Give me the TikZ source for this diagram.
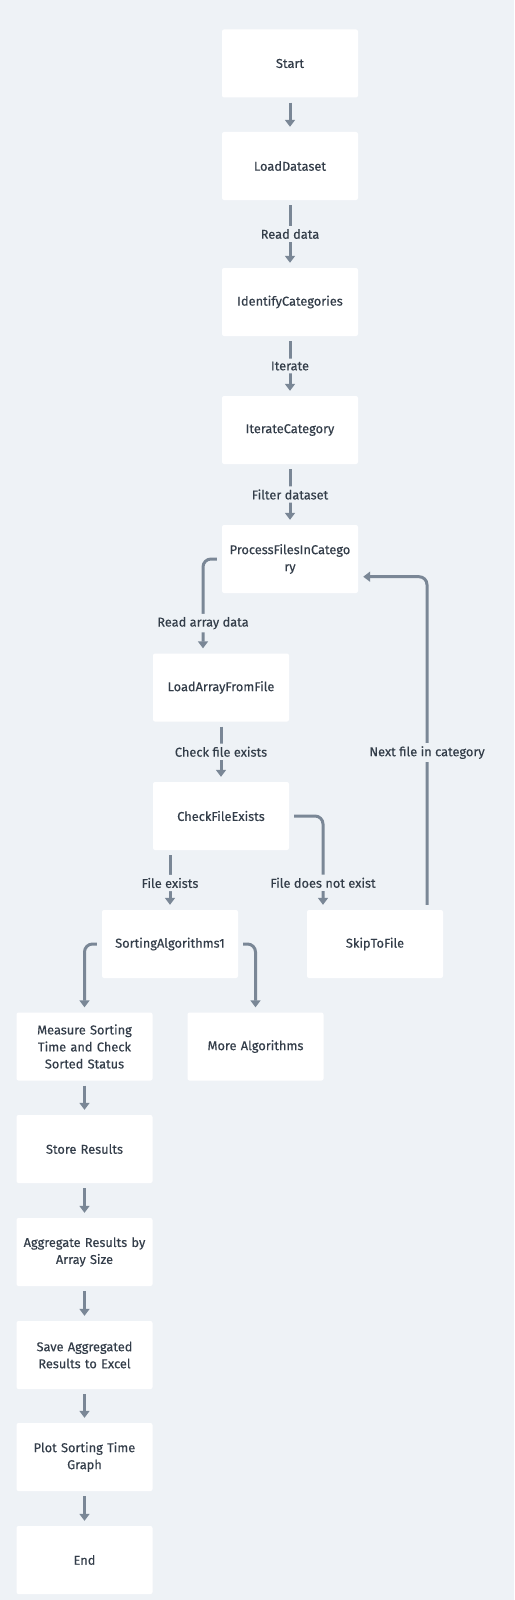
\documentclass[tikz,border=0pt]{standalone}
\usepackage{fontspec}
\setmainfont{Fira Sans}
\newfontfamily\medfont{Fira Sans}[FakeBold=0.3]
\usetikzlibrary{arrows.meta,calc,positioning}
\definecolor{bgcol}{HTML}{EEF2F6}
\definecolor{edgecol}{HTML}{7A8796}
\definecolor{txtcol}{HTML}{333D49}
\newcommand{\boxw}{136pt}
\newcommand{\boxh}{68pt}
\tikzset{
    stepsty/.style={fill=white,rectangle,rounded corners=2pt,minimum width=\boxw,minimum height=\boxh,
                    text width=128pt,align=center,text=txtcol,font=\medfont\fontsize{12.8}{17}\selectfont},
    flowsty/.style={draw=edgecol,line width=3pt,-{Triangle[length=7pt,width=10pt]},
                    shorten <=5pt,shorten >=5pt,rounded corners=8pt},
    lblsty/.style={fill=bgcol,text=txtcol,inner sep=3pt,font=\medfont\fontsize{12.8}{15}\selectfont},
}

\begin{document}
\begin{tikzpicture}[x=1pt,y=-1pt]
  \fill[bgcol] (0,0) rectangle (514,1600);
  \useasboundingbox (0,0) rectangle (514,1600);

  % main column
  \node[stepsty] (start)     at (290,63.5)   {Start};
  \node[stepsty] (loadds)    at (290,166)    {LoadDataset};
  \node[stepsty] (identcat)  at (290,302)    {IdentifyCategories};
  \node[stepsty] (itercat)   at (290,430)    {IterateCategory};
  \node[stepsty] (procfiles) at (290,559)    {ProcessFilesInCatego\\ry};
  \node[stepsty] (loadarr)   at (221,687.5)  {LoadArrayFromFile};
  \node[stepsty] (chkfile)   at (221,816)    {CheckFileExists};
  \node[stepsty] (sortalg)   at (170,944)    {SortingAlgorithms1};
  \node[stepsty] (skipfile)  at (375,944)    {SkipToFile};
  \node[stepsty] (measure)   at (84.5,1046.5) {Measure Sorting\\Time and Check\\Sorted Status};
  \node[stepsty] (morealg)   at (255.5,1046.5) {More Algorithms};
  \node[stepsty] (store)     at (84.5,1149)  {Store Results};
  \node[stepsty] (aggr)      at (84.5,1252)  {Aggregate Results by\\Array Size};
  \node[stepsty] (saveres)   at (84.5,1355)  {Save Aggregated\\Results to Excel};
  \node[stepsty] (plotgr)    at (84.5,1457)  {Plot Sorting Time\\Graph};
  \node[stepsty] (finish)    at (84.5,1560)  {End};

  % connectors
  \draw[flowsty] (start) -- (loadds);
  \draw[flowsty] (loadds) -- node[lblsty]{Read data} (identcat);
  \draw[flowsty] (identcat) -- node[lblsty]{Iterate} (itercat);
  \draw[flowsty] (itercat) -- node[lblsty]{Filter dataset} (procfiles);
  \draw[flowsty] (procfiles.west) -| node[lblsty,pos=0.84]{Read array data} ([xshift=-18pt]loadarr.north);
  \draw[flowsty] (loadarr) -- node[lblsty]{Check file exists} (chkfile);
  \draw[flowsty] (chkfile.south -| sortalg.north) -- node[lblsty,pos=0.55]{File exists} (sortalg.north);
  \draw[flowsty] (chkfile.east) -| node[lblsty,pos=0.856]{File does not exist} ([xshift=-52pt]skipfile.north);
  \draw[flowsty] ([xshift=52pt]skipfile.north) |- node[lblsty,pos=0.236]{Next file in category} ([yshift=-17.7pt]procfiles.east);
  \draw[flowsty] (sortalg.west) -| (measure.north);
  \draw[flowsty] (sortalg.east) -| (morealg.north);
  \draw[flowsty] (measure) -- (store);
  \draw[flowsty] (store) -- (aggr);
  \draw[flowsty] (aggr) -- (saveres);
  \draw[flowsty] (saveres) -- (plotgr);
  \draw[flowsty] (plotgr) -- (finish);
\end{tikzpicture}
\end{document}
